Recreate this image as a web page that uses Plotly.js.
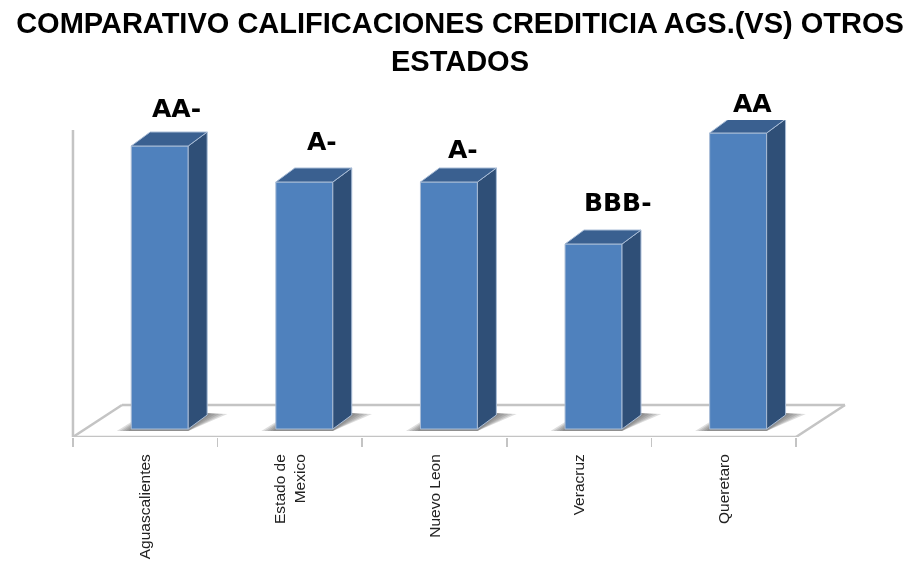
<!DOCTYPE html>
<html>
<head>
<meta charset="utf-8">
<script src="https://cdn.plot.ly/plotly-3.0.1.min.js"></script>
<style>html,body{margin:0;padding:0;background:#fff;overflow:hidden}#c{width:908px;height:564px;filter:blur(0.5px)}</style>
</head>
<body>
<div id="c"></div>
<script>
// Data
const categories = ['Aguascalientes', 'Estado de<br>Mexico', 'Nuevo Leon', 'Veracruz', 'Queretaro'];
const values = [14.15, 12.35, 12.35, 9.25, 14.8];
const ratings = ['AA-', 'A-', 'A-', 'BBB-', 'AA'];

// Label nudges (px) relative to each bar's top centre
const labelDx = [17, 18, 14, 24, 14];
const labelDy = [38, 41, 33, 42, 30];

// Pseudo-3D style, in axis units
const barShift = 0.1, barWidth = 0.394, depthX = 0.131, depthY = 0.7;
const floorFront = -0.4, floorBack = 1.2, wallTop = 14.95;
const xLeft = -0.5, xRight = 4.5, floorDx = 0.339;
const colFront = '#4f81bd', colSide = '#2f4f77', colTop = '#3a6090', colEdge = '#a8bcd6', colAxis = '#c4c4c4';

const idx = categories.map((_, i) => i);
const boundaries = [0, 1, 2, 3, 4, 5].map(v => v - 0.5);

function poly(points, fill) {
  const xs = points.map(p => p[0]); const ys = points.map(p => p[1]);
  xs.push(xs[0]); ys.push(ys[0]);
  return { type: 'scatter', mode: 'lines', x: xs, y: ys, fill: 'toself', fillcolor: fill,
           line: { color: colEdge, width: 1 }, hoverinfo: 'skip', showlegend: false };
}
function pathOf(points) {
  return 'M' + points.map(p => p[0] + ',' + p[1]).join('L') + 'Z';
}

const traces = [];
traces.push({ type: 'bar', x: idx.map(i => i + barShift), y: values, width: barWidth,
  marker: { color: colFront, line: { color: colEdge, width: 1 } }, hoverinfo: 'skip', showlegend: false });

idx.forEach(i => {
  const L = i + barShift - barWidth / 2, R = i + barShift + barWidth / 2, v = values[i];
  traces.push(poly([[R, 0], [R + depthX, depthY], [R + depthX, v + depthY], [R, v]], colSide));
  traces.push(poly([[L, v], [R, v], [R + depthX, v + depthY], [L + depthX, v + depthY]], colTop));
});

const shapes = [];
const floorLine = { color: colAxis, width: 2.5 };
[[xLeft, floorFront, xRight, floorFront],
 [xLeft + floorDx, floorBack, xRight + floorDx, floorBack],
 [xLeft, floorFront, xLeft + floorDx, floorBack],
 [xRight, floorFront, xRight + floorDx, floorBack]].forEach(s => {
  shapes.push({ type: 'line', layer: 'below', xref: 'x', yref: 'y', x0: s[0], y0: s[1], x1: s[2], y1: s[3], line: floorLine });
});
shapes.push({ type: 'line', layer: 'below', xref: 'x', yref: 'y', x0: xLeft, y0: floorFront, x1: xLeft, y1: wallTop, line: { color: colAxis, width: 2.5 } });

[1, 0.8, 0.6, 0.4, 0.2].forEach(k => {
  idx.forEach(i => {
    const L = i + barShift - barWidth / 2, R = i + barShift + barWidth / 2;
    shapes.push({ type: 'path', layer: 'below', xref: 'x', yref: 'y', line: { width: 0 },
      fillcolor: 'rgba(90,90,90,0.2)',
      path: pathOf([[L - 0.1 * k, -0.1], [R, -0.1], [R + depthX + 0.14 * k, depthY + 0.05], [R + depthX, depthY + 0.1], [L, 0.35 * k]]) });
  });
});

const annotations = idx.map(i => ({
  x: i + barShift, y: values[i], xref: 'x', yref: 'y', text: ratings[i], showarrow: false,
  xanchor: 'center', yanchor: 'middle', xshift: labelDx[i], yshift: labelDy[i],
  font: { family: 'DejaVu Sans', size: 25, color: '#000', weight: 700 }
}));

const layout = {
  width: 908, height: 564, showlegend: false, autosize: false,
  paper_bgcolor: '#fff', plot_bgcolor: 'rgba(0,0,0,0)',
  margin: { l: 40, r: 28, t: 120, b: 127, pad: 0 },
  title: { text: 'COMPARATIVO CALIFICACIONES CREDITICIA AGS.(VS) OTROS<br>ESTADOS',
    x: 0.5, xanchor: 'center', xref: 'paper', yref: 'container', y: 0.941, yanchor: 'top',
    font: { family: 'Liberation Sans', size: 29, color: '#000', weight: 700 } },
  xaxis: { type: 'linear', range: [-0.728, 5.081], fixedrange: true, zeroline: false, showgrid: false, showline: false,
    tickmode: 'array', tickvals: idx, ticktext: categories, tickangle: -90,
    ticks: 'outside', ticklen: 10, tickcolor: 'rgba(0,0,0,0)', tickwidth: 1,
    tickfont: { family: 'Liberation Sans', size: 15.5, color: '#222' },
    minor: { tickmode: 'array', tickvals: boundaries, ticks: 'outside', ticklen: 9, tickwidth: 1.5, tickcolor: colAxis, showgrid: false } },
  yaxis: { range: [-0.4, 15.45], fixedrange: true, visible: false, zeroline: false, showgrid: false },
  bargap: 0, shapes: shapes, annotations: annotations
};
Plotly.newPlot('c', traces, layout, { displayModeBar: false, responsive: false, staticPlot: true });
</script>
</body>
</html>
